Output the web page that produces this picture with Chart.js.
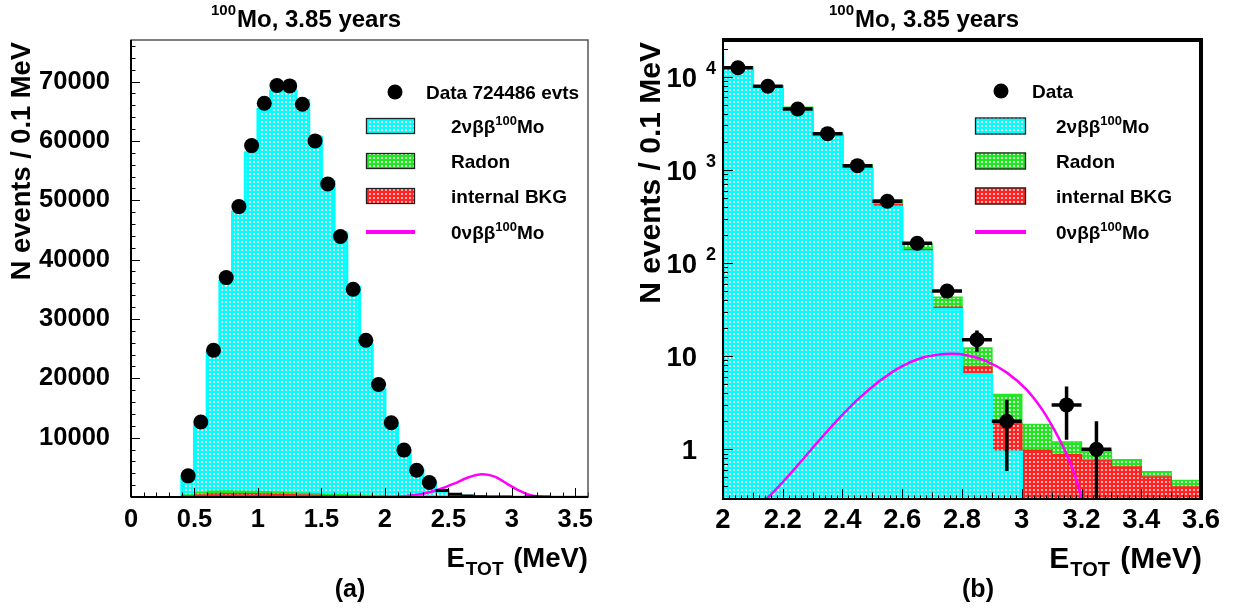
<!DOCTYPE html>
<html>
<head>
<meta charset="utf-8">
<script src="https://cdn.jsdelivr.net/npm/chart.js@4.4.1/dist/chart.umd.min.js"></script>
<style>
  html, body { margin: 0; padding: 0; background: #fff; }
  #wrap { position: relative; width: 1245px; height: 611px; overflow: hidden; }
  canvas { position: absolute; top: 0; }
  #cA { left: 0; }
  #cB { left: 620px; }
</style>
</head>
<body>
<div id="wrap">
  <canvas id="cA" width="620" height="611"></canvas>
  <canvas id="cB" width="625" height="611"></canvas>
</div>
<script>
// ---- E_TOT histogram, 0.1 MeV bins (lower edges in MeV) ----
const binLow = [0.4, 0.5, 0.6, 0.7, 0.8, 0.9, 1.0, 1.1, 1.2, 1.3, 1.4, 1.5, 1.6, 1.7, 1.8, 1.9,
                2.0, 2.1, 2.2, 2.3, 2.4, 2.5, 2.6, 2.7, 2.8, 2.9, 3.0, 3.1, 3.2, 3.3, 3.4, 3.5];
const binWidth = 0.1;
const totalEvents = 724486;

// observed events per bin
const dataCounts = [3560, 12630, 24730, 36970, 48930, 59210, 66350, 69330, 69270, 66180, 60000, 52750,
                    43880, 35000, 26410, 18960, 12500, 7900, 4500, 2450, 1110, 461, 163, 50,
                    15, 2, 0, 3, 1, 0, 0, 0];
// 2vbb 100Mo expectation
const mc2nu = [3300, 11900, 24300, 36300, 48000, 58000, 65300, 68400, 68400, 66800, 60600, 53100,
               44500, 35300, 25600, 18100, 12400, 7800, 4530, 2340, 1020, 400, 133, 32,
               6.4, 0.94, 0, 0, 0, 0, 0, 0];
// radon background
const mcRadon = [350, 700, 950, 1000, 980, 930, 870, 800, 720, 640, 560, 480,
                 410, 350, 290, 250, 210, 160, 120, 90, 70, 55, 22, 9.5,
                 4.6, 2.0, 0.87, 0.32, 0.22, 0.13, 0.07, 0.07];
// internal background
const mcInternal = [150, 350, 500, 550, 560, 550, 520, 480, 420, 350, 280, 220,
                    170, 130, 100, 80, 60, 50, 45, 40, 40, 22, 6, 1.5,
                    1.26, 0.95, 0.975, 0.877, 0.755, 0.645, 0.504, 0.393];

// 0vbb 100Mo signal shape, linear panel (scaled for visibility)
const sig0nuLinE = [1.97, 2.1, 2.2, 2.3, 2.43, 2.55, 2.65, 2.77, 2.87, 2.96, 3.05, 3.14, 3.22, 3.25];
const sig0nuLinN = [0, 60, 250, 550, 1300, 2300, 3250, 3820, 3400, 2250, 1150, 340, 30, 0];
// 0vbb 100Mo signal shape, log panel
const sig0nuLogE = [2.135, 2.19, 2.256, 2.323, 2.389, 2.456, 2.523, 2.589, 2.656, 2.723,
                    2.763, 2.816, 2.883, 2.949, 3.016, 3.069, 3.109, 3.149, 3.176, 3.205];
const sig0nuLogN = [0.27, 0.41, 0.71, 1.26, 2.16, 3.55, 5.37, 7.5, 9.4, 10.4,
                    10.6, 10.25, 8.8, 6.7, 4.37, 2.65, 1.62, 0.905, 0.55, 0.27];

// axis tick values
const ticksAX = [0, 0.5, 1, 1.5, 2, 2.5, 3, 3.5];
const ticksAY = [10000, 20000, 30000, 40000, 50000, 60000, 70000];
const ticksBX = [2, 2.2, 2.4, 2.6, 2.8, 3, 3.2, 3.4, 3.6];
const ticksBY = [1, 10, 100, 1000, 10000];

const FONT = '"Liberation Sans", Arial, Helvetica, sans-serif';
const CYAN = '#00ffff', GREEN = '#22e622', RED = '#ff2424', MAGENTA = '#ff00ff';

// ---- cross-hatch fills ----
function hatch(color, holeAlpha) {
  const tile = document.createElement('canvas');
  tile.width = 4; tile.height = 4;
  const g = tile.getContext('2d');
  g.fillStyle = color; g.fillRect(0, 0, 4, 4);
  g.fillStyle = 'rgba(255,255,255,' + holeAlpha + ')';
  g.fillRect(1, 1, 2, 2);
  return g.createPattern(tile, 'repeat');
}
const hatchCyan = hatch(CYAN, 0.95);
const hatchGreen = hatch(GREEN, 0.8);
const hatchRed = hatch(RED, 0.65);

// step outline: one point per bin edge, closed down to the floor at both ends
function stepPoints(vals, floor) {
  const f = v => (v > 0 ? v : floor);
  const pts = [{ x: binLow[0], y: floor }];
  vals.forEach((v, i) => pts.push({ x: binLow[i], y: f(v) }));
  pts.push({ x: binLow[binLow.length - 1] + binWidth, y: floor });
  return pts;
}
function addArrays(...arrs) {
  return arrs[0].map((_, i) => arrs.reduce((s, a) => s + a[i], 0));
}

// ---- rich text (super/subscripts) ----
function drawRich(ctx, x, y, parts, align) {
  let w = 0;
  parts.forEach(p => {
    ctx.font = 'bold ' + p.size + 'px ' + FONT;
    p._w = ctx.measureText(p.t).width + (p.gap || 0);
    w += p._w;
  });
  let cx = align === 'right' ? x - w : (align === 'center' ? x - w / 2 : x);
  ctx.textAlign = 'left';
  ctx.textBaseline = 'alphabetic';
  parts.forEach(p => {
    ctx.font = 'bold ' + p.size + 'px ' + FONT;
    ctx.fillText(p.t, cx, y + (p.dy || 0));
    cx += p._w;
  });
}
function drawVertical(ctx, text, x, yTop, size) {
  ctx.save();
  ctx.translate(x, yTop);
  ctx.rotate(-Math.PI / 2);
  ctx.font = 'bold ' + size + 'px ' + FONT;
  ctx.textAlign = 'right';
  ctx.textBaseline = 'alphabetic';
  ctx.fillText(text, 0, 0);
  ctx.restore();
}

// ---- data error bars (x: bin width, y: sqrt N) ----
const errorBars = {
  id: 'errorBars',
  afterDatasetsDraw(chart, args, opts) {
    const { ctx, chartArea: a } = chart;
    const xs = chart.scales.x, ys = chart.scales.y;
    const isLog = ys.type === 'logarithmic';
    ctx.save();
    ctx.beginPath();
    ctx.rect(a.left, a.top, a.right - a.left, a.bottom - a.top);
    ctx.clip();
    ctx.strokeStyle = '#000';
    ctx.lineWidth = opts.width;
    binLow.forEach((lo, i) => {
      const n = dataCounts[i];
      if (n <= 0) return;
      const e = Math.sqrt(n);
      const py = ys.getPixelForValue(n);
      const xc = xs.getPixelForValue(lo + binWidth / 2);
      ctx.beginPath();
      ctx.moveTo(xs.getPixelForValue(lo), py);
      ctx.lineTo(xs.getPixelForValue(lo + binWidth), py);
      const low = n - e;
      const yLow = (low > 0) ? ys.getPixelForValue(low) : (isLog ? a.bottom : ys.getPixelForValue(0));
      ctx.moveTo(xc, yLow);
      ctx.lineTo(xc, ys.getPixelForValue(n + e));
      ctx.stroke();
    });
    ctx.restore();
  }
};

// ---- frame, inward ticks, titles and legend ----
function makeDecor(spec) {
  return {
    id: 'decor',
    afterDraw(chart) {
      const ctx = chart.ctx, a = chart.chartArea;
      const xs = chart.scales.x, ys = chart.scales.y;
      ctx.save();
      ctx.strokeStyle = '#000';
      ctx.lineWidth = 1;
      spec.xMinor.forEach(t => {
        const px = Math.round(xs.getPixelForValue(t.v)) + 0.5;
        ctx.beginPath(); ctx.moveTo(px, a.bottom); ctx.lineTo(px, a.bottom - t.len); ctx.stroke();
      });
      spec.yMinor.forEach(t => {
        const py = Math.round(ys.getPixelForValue(t.v)) + 0.5;
        if (py < a.top || py > a.bottom) return;
        ctx.beginPath(); ctx.moveTo(a.left, py); ctx.lineTo(a.left + t.len, py); ctx.stroke();
      });

      // frame
      spec.frame(ctx, a);

      ctx.fillStyle = '#000';
      if (spec.logLabels) spec.logLabels(ctx, ys, a);

      // title
      drawRich(ctx, spec.title.x, spec.title.y, [
        { t: '100', size: 15, dy: -12, gap: 1 },
        { t: 'Mo, 3.85 years', size: 24 }
      ], 'left');
      // axis titles
      drawRich(ctx, spec.xTitle.x, spec.xTitle.y, [
        { t: 'E', size: spec.xTitle.size, gap: 1 },
        { t: 'TOT', size: Math.round(spec.xTitle.size * 0.68), dy: 8, gap: 2 },
        { t: ' (MeV)', size: spec.xTitle.size }
      ], 'right');
      drawVertical(ctx, 'N events / 0.1 MeV', spec.yTitle.x, spec.yTitle.y, spec.yTitle.size);
      // panel tag
      ctx.font = 'bold 25px ' + FONT;
      ctx.textAlign = 'center';
      ctx.textBaseline = 'alphabetic';
      ctx.fillText(spec.tag.t, spec.tag.x, spec.tag.y);

      // legend
      const L = spec.legend;
      ctx.beginPath();
      ctx.arc(L.dotX, L.dotY, 7.5, 0, Math.PI * 2);
      ctx.fill();
      drawRich(ctx, L.dataX, L.dotY + 6.5, [{ t: L.dataText, size: 19 }], 'left');
      const rows = [
        { fill: hatchCyan, parts: [{ t: '2\u03bd\u03b2\u03b2', size: 19 }, { t: '100', size: 13, dy: -8.5 }, { t: 'Mo', size: 19 }] },
        { fill: hatchGreen, parts: [{ t: 'Radon', size: 19 }] },
        { fill: hatchRed, parts: [{ t: 'internal BKG', size: 19 }] },
        { line: MAGENTA, parts: [{ t: '0\u03bd\u03b2\u03b2', size: 19 }, { t: '100', size: 13, dy: -8.5 }, { t: 'Mo', size: 19 }] }
      ];
      rows.forEach((r, i) => {
        const cy = L.rowY[i];
        if (r.fill) {
          ctx.fillStyle = r.fill;
          ctx.fillRect(L.boxX, cy - L.boxH / 2, L.boxW, L.boxH);
          ctx.strokeStyle = '#222';
          ctx.lineWidth = 1.3;
          ctx.strokeRect(L.boxX + 0.5, cy - L.boxH / 2 + 0.5, L.boxW - 1, L.boxH - 1);
        } else {
          ctx.strokeStyle = r.line;
          ctx.lineWidth = 4;
          ctx.beginPath(); ctx.moveTo(L.boxX, cy); ctx.lineTo(L.boxX + L.boxW, cy); ctx.stroke();
        }
        ctx.fillStyle = '#000';
        drawRich(ctx, L.textX, cy + 7, r.parts, 'left');
      });
      ctx.restore();
    }
  };
}

// minor/major tick lists for the inward ticks
function linTicks(min, max, step, every, lenMajor, lenMinor, mid, lenMid) {
  const out = [];
  const n = Math.round((max - min) / step);
  for (let k = 0; k <= n; k++) {
    const v = min + k * step;
    let len = lenMinor;
    if (k % every === 0) len = lenMajor;
    else if (mid && k % mid === 0) len = lenMid;
    out.push({ v: v, len: len });
  }
  return out;
}
function logTicks(min, max) {
  const out = [];
  for (let e = -1; e <= 4; e++) {
    for (let m = 1; m <= 9; m++) {
      const v = m * Math.pow(10, e);
      if (v >= min && v <= max) out.push({ v: v, len: m === 1 ? 10 : 5 });
    }
  }
  return out;
}

function commonOptions(pad, xScale, yScale, barWidth) {
  return {
    responsive: false,
    animation: false,
    devicePixelRatio: 1,
    events: [],
    layout: { padding: pad },
    plugins: { legend: { display: false }, tooltip: { enabled: false }, errorBars: { width: barWidth } },
    scales: { x: xScale, y: yScale }
  };
}

// ================= (a) linear scale =================
const tickFontA = { family: FONT, size: 25.5, weight: 'bold' };
new Chart(document.getElementById('cA'), {
  type: 'line',
  data: {
    datasets: [
      {
        label: 'Data ' + totalEvents + ' evts',
        data: binLow.map((lo, i) => ({ x: lo + binWidth / 2, y: dataCounts[i] })),
        showLine: false,
        pointRadius: c => (c.raw && c.raw.y >= 2000 ? 7.5 : 0),
        pointBackgroundColor: '#000', pointBorderWidth: 0,
        order: 0
      },
      {
        label: '0vbb 100Mo',
        data: sig0nuLinE.map((e, i) => ({ x: e, y: sig0nuLinN[i] })),
        borderColor: MAGENTA, borderWidth: 2.5, cubicInterpolationMode: 'monotone',
        pointRadius: 0, fill: false, order: 1
      },
      {
        label: 'internal BKG',
        data: stepPoints(mcInternal, 0), stepped: true,
        borderColor: RED, borderWidth: 1.5, backgroundColor: hatchRed, fill: 'origin',
        pointRadius: 0, order: 2
      },
      {
        label: 'Radon',
        data: stepPoints(mcRadon, 0), stepped: true,
        borderColor: GREEN, borderWidth: 1.5, backgroundColor: hatchGreen, fill: 'origin',
        pointRadius: 0, order: 3
      },
      {
        label: '2vbb 100Mo',
        data: stepPoints(mc2nu, 0), stepped: true,
        borderColor: CYAN, borderWidth: 3, backgroundColor: hatchCyan, fill: 'origin',
        pointRadius: 0, order: 4
      }
    ]
  },
  options: commonOptions(
    { top: 40, right: 32, left: 0, bottom: 0 },
    {
      type: 'linear', min: 0, max: 3.6,
      afterBuildTicks: s => { s.ticks = ticksAX.map(v => ({ value: v })); },
      afterFit: s => { s.height = 114; },
      ticks: { font: tickFontA, color: '#000', padding: 0, autoSkip: false, maxRotation: 0,
               callback: v => String(Math.round(v * 10) / 10) },
      grid: { display: false }, border: { display: false }
    },
    {
      type: 'linear', min: 0, max: 77000,
      afterBuildTicks: s => { s.ticks = ticksAY.map(v => ({ value: v })); },
      afterFit: s => { s.width = 131; },
      ticks: { font: tickFontA, color: '#000', padding: 13, callback: v => String(v) },
      grid: { display: false }, border: { display: false }
    },
    3
  ),
  plugins: [errorBars, makeDecor({
    xMinor: linTicks(0, 3.6, 0.1, 5, 9, 4.5),
    yMinor: linTicks(0, 76000, 2000, 5, 9, 4.5),
    frame: (ctx, a) => {
      ctx.strokeStyle = '#555'; ctx.lineWidth = 1.5;
      ctx.strokeRect(a.left, a.top, a.right - a.left, a.bottom - a.top);
      ctx.strokeStyle = '#000'; ctx.lineWidth = 2;
      ctx.beginPath(); ctx.moveTo(a.left, a.bottom); ctx.lineTo(a.right, a.bottom); ctx.stroke();
      ctx.beginPath(); ctx.moveTo(a.left, a.top); ctx.lineTo(a.left, a.bottom); ctx.stroke();
    },
    title: { x: 211, y: 27 },
    xTitle: { x: 588, y: 567, size: 27.5 },
    yTitle: { x: 30, y: 42, size: 27.3 },
    tag: { t: '(a)', x: 350, y: 597 },
    legend: { dotX: 395, dotY: 92, dataX: 426, dataText: 'Data ' + totalEvents + ' evts',
              boxX: 366, boxW: 49, boxH: 16, textX: 451, rowY: [126, 161, 196, 232] }
  })]
});

// ================= (b) log scale =================
const tickFontB = { family: FONT, size: 27.5, weight: 'bold' };
const LOGFLOOR = 1e-3;
const stackInt = addArrays(mc2nu, mcInternal);
const stackAll = addArrays(mc2nu, mcInternal, mcRadon);
new Chart(document.getElementById('cB'), {
  type: 'line',
  data: {
    datasets: [
      {
        label: 'Data',
        data: binLow.map((lo, i) => ({ x: lo + binWidth / 2, y: dataCounts[i] > 0 ? dataCounts[i] : null })),
        showLine: false, pointRadius: 7.5,
        pointBackgroundColor: '#000', pointBorderWidth: 0,
        order: 0
      },
      {
        label: '0vbb 100Mo',
        data: sig0nuLogE.map((e, i) => ({ x: e, y: sig0nuLogN[i] })),
        borderColor: MAGENTA, borderWidth: 2.5, cubicInterpolationMode: 'monotone',
        pointRadius: 0, fill: false, order: 1, clip: 0
      },
      {
        label: '2vbb 100Mo',
        data: stepPoints(mc2nu, LOGFLOOR), stepped: true,
        borderColor: CYAN, borderWidth: 2.5, backgroundColor: hatchCyan, fill: 'start',
        pointRadius: 0, order: 2, clip: 0
      },
      {
        label: 'internal BKG',
        data: stepPoints(stackInt, LOGFLOOR), stepped: true,
        borderColor: RED, borderWidth: 1.5, backgroundColor: hatchRed, fill: 'start',
        pointRadius: 0, order: 3, clip: 0
      },
      {
        label: 'Radon',
        data: stepPoints(stackAll, LOGFLOOR), stepped: true,
        borderColor: GREEN, borderWidth: 1.5, backgroundColor: hatchGreen, fill: 'start',
        pointRadius: 0, order: 4, clip: 0
      }
    ]
  },
  options: commonOptions(
    { top: 40, right: 44, left: 0, bottom: 0 },
    {
      type: 'linear', min: 2, max: 3.6,
      afterBuildTicks: s => { s.ticks = ticksBX.map(v => ({ value: v })); },
      afterFit: s => { s.height = 112; },
      ticks: { font: tickFontB, color: '#000', padding: -3, autoSkip: false, maxRotation: 0,
               callback: v => String(Math.round(v * 10) / 10) },
      grid: { display: false }, border: { display: false }
    },
    {
      type: 'logarithmic', min: 0.293, max: 24800,
      afterBuildTicks: s => { s.ticks = ticksBY.map(v => ({ value: v })); },
      afterFit: s => { s.width = 103; },
      ticks: { display: false },
      grid: { display: false }, border: { display: false }
    },
    3.5
  ),
  plugins: [errorBars, makeDecor({
    xMinor: linTicks(2, 3.6, 0.02, 10, 10, 3.5, 5, 6.5),
    yMinor: logTicks(0.293, 24800),
    frame: (ctx, a) => {
      ctx.strokeStyle = '#000';
      ctx.lineWidth = 2;
      ctx.beginPath(); ctx.moveTo(a.left, a.top); ctx.lineTo(a.left, a.bottom); ctx.lineTo(a.right, a.bottom); ctx.stroke();
      ctx.lineWidth = 4;
      ctx.beginPath(); ctx.moveTo(a.left - 1, a.top); ctx.lineTo(a.right, a.top); ctx.lineTo(a.right, a.bottom + 1); ctx.stroke();
    },
    logLabels: (ctx, ys, a) => {
      ys.ticks.forEach(t => {
        const v = t.value;
        const py = ys.getPixelForValue(v);
        const exp = Math.round(Math.log10(v));
        ctx.textBaseline = 'alphabetic';
        ctx.font = 'bold 27.5px ' + FONT;
        ctx.textAlign = 'right';
        if (exp >= 2) {
          ctx.fillText('10', a.left - 26, py + 9.8);
          ctx.font = 'bold 18px ' + FONT;
          ctx.textAlign = 'left';
          ctx.fillText(String(exp), a.left - 17, py - 3);
        } else {
          ctx.fillText(String(v), a.left - 26, py + 9.8);
        }
      });
    },
    title: { x: 209, y: 27 },
    xTitle: { x: 582, y: 568, size: 30 },
    yTitle: { x: 40, y: 42, size: 30 },
    tag: { t: '(b)', x: 358, y: 597 },
    legend: { dotX: 381, dotY: 91, dataX: 412, dataText: 'Data',
              boxX: 355, boxW: 51, boxH: 17, textX: 436, rowY: [126, 161, 196, 232] }
  })]
});
</script>
</body>
</html>
